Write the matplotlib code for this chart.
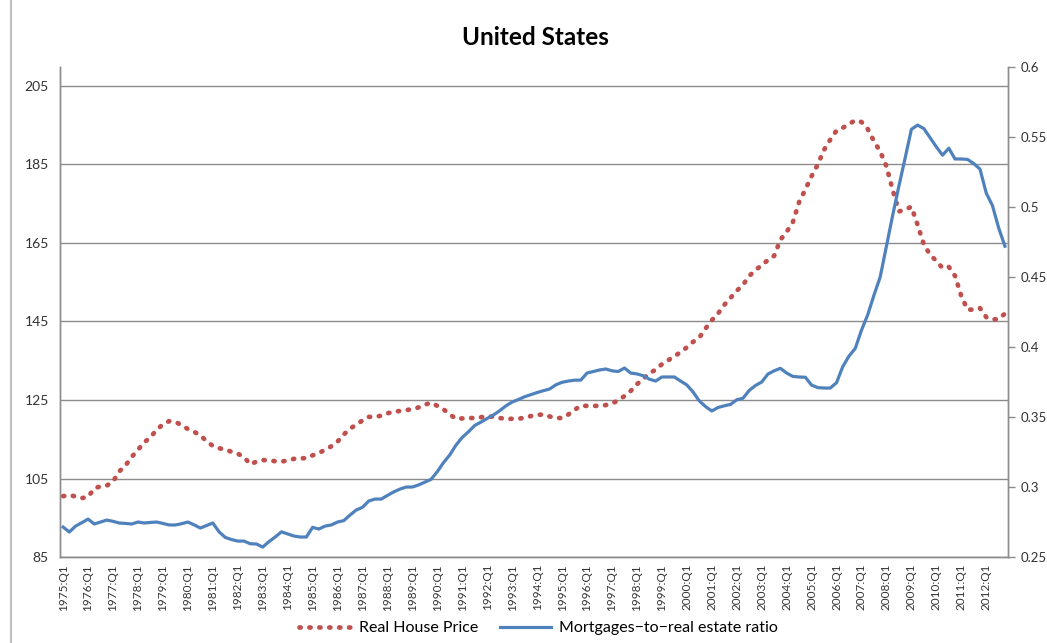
import matplotlib
matplotlib.use('Agg')
from matplotlib import pyplot as plt
from matplotlib.lines import Line2D
import numpy as np

plt.rcParams['font.family'] = ['Lato', 'DejaVu Sans']

# quarterly data, 1975:Q1 - 2012:Q4
house_price = [
    100.5, 100.8, 100.4, 100.0, 100.3, 102.5, 103.0, 103.2,
    104.2, 106.8, 108.3, 110.5, 112.3, 114.2, 115.5, 117.4,
    118.8, 119.6, 119.4, 118.6, 117.6, 116.9, 116.0, 114.5,
    113.3, 112.7, 112.4, 111.8, 111.3, 110.5, 108.6, 109.3,
    109.7, 109.6, 109.4, 109.3, 109.6, 110.0, 110.1, 110.2,
    110.9, 111.5, 112.3, 113.2, 114.4, 116.2, 117.7, 118.7,
    119.8, 120.7, 120.7, 121.0, 121.6, 122.0, 122.2, 122.4,
    122.7, 123.1, 123.8, 124.3, 123.5, 122.6, 121.3, 120.2,
    120.3, 120.4, 120.4, 120.6, 120.9, 120.7, 120.4, 120.2,
    120.2, 120.2, 120.5, 120.9, 121.2, 121.3, 120.8, 120.4,
    120.4, 121.3, 122.5, 123.5, 123.5, 123.5, 123.5, 123.7,
    124.1, 124.9, 126.0, 127.3, 129.0, 130.4, 131.8, 132.7,
    134.1, 135.1, 136.1, 137.2, 138.4, 139.8, 140.9, 143.2,
    145.3, 147.0, 149.2, 151.0, 152.8, 154.3, 156.6, 158.0,
    159.4, 160.6, 161.7, 165.8, 167.8, 170.3, 175.4, 178.6,
    182.0, 185.0, 188.7, 191.3, 193.6, 194.3, 195.3, 196.2,
    195.8, 194.0, 190.9, 188.3, 184.5, 178.5, 173.0, 173.5,
    174.2, 169.6, 164.6, 162.0, 160.4, 158.6, 158.9, 156.6,
    151.5, 148.0, 148.0, 148.4, 146.1, 145.5, 145.6, 147.0,
]

mortgage_ratio = [
    0.2714, 0.2679, 0.2721, 0.2745, 0.2771, 0.2736, 0.2750, 0.2764,
    0.2755, 0.2743, 0.2740, 0.2736, 0.2750, 0.2743, 0.2747, 0.2750,
    0.2740, 0.2729, 0.2729, 0.2738, 0.2750, 0.2730, 0.2707, 0.2725,
    0.2743, 0.2680, 0.2640, 0.2625, 0.2614, 0.2614, 0.2595, 0.2593,
    0.2571, 0.2610, 0.2643, 0.2680, 0.2665, 0.2650, 0.2643, 0.2643,
    0.2712, 0.2700, 0.2721, 0.2729, 0.2750, 0.2760, 0.2800, 0.2836,
    0.2855, 0.2900, 0.2914, 0.2914, 0.2940, 0.2965, 0.2985, 0.3000,
    0.3000, 0.3015, 0.3035, 0.3055, 0.3110, 0.3175, 0.3230, 0.3300,
    0.3355, 0.3395, 0.3440, 0.3464, 0.3490, 0.3515, 0.3545, 0.3580,
    0.3607, 0.3625, 0.3645, 0.3660, 0.3675, 0.3688, 0.3700, 0.3730,
    0.3748, 0.3757, 0.3763, 0.3764, 0.3814, 0.3825, 0.3836, 0.3843,
    0.3830, 0.3825, 0.3850, 0.3814, 0.3808, 0.3795, 0.3770, 0.3757,
    0.3786, 0.3786, 0.3786, 0.3757, 0.3729, 0.3679, 0.3615, 0.3575,
    0.3543, 0.3568, 0.3580, 0.3590, 0.3623, 0.3634, 0.3690, 0.3725,
    0.3750, 0.3807, 0.3830, 0.3848, 0.3814, 0.3790, 0.3786, 0.3784,
    0.3728, 0.3710, 0.3707, 0.3707, 0.3745, 0.3860, 0.3935, 0.3990,
    0.4120, 0.4230, 0.4370, 0.4500, 0.4720, 0.4940, 0.5150, 0.5350,
    0.5555, 0.5585, 0.5560, 0.5495, 0.5430, 0.5370, 0.5420, 0.5343,
    0.5343, 0.5340, 0.5310, 0.5271, 0.5100, 0.5010, 0.4850, 0.4720,
]

years = list(range(1975, 2013))
year_labels = [f"{y}:Q1" for y in years]
left_ticks = [85, 105, 125, 145, 165, 185, 205]
right_ticks = [0.25, 0.3, 0.35, 0.4, 0.45, 0.5, 0.55, 0.6]

red = '#C0504D'
blue = '#4F81BD'
grey = '#8C8C8C'

fig = plt.figure(figsize=(10.47, 6.43), dpi=100)
ax = fig.add_axes([0.0573, 0.1337, 0.9055, 0.7621])
ax2 = ax.twinx()

x = np.arange(len(house_price)) + 0.5

ax.plot(x, house_price, color=red, lw=3.4, linestyle=(0, (0.25, 1.85)),
        dash_capstyle='round', label='Real House Price', zorder=3)
ax2.plot(x, mortgage_ratio, color=blue, lw=2.3,
         label='Mortgages\u2212to\u2212real estate ratio')

ax.set_xlim(0, len(house_price))
ax.set_ylim(85, 209.8)
ax.set_yticks(left_ticks)
ax.set_yticklabels([str(t) for t in left_ticks], fontsize=10, color='#333333')
ax.tick_params(axis='y', length=0, pad=8)
ax.yaxis.grid(True, color=grey, lw=1)
ax.set_axisbelow(True)

ax.set_xticks(np.arange(0, len(house_price), 4) + 0.5)
ax.set_xticklabels(year_labels, rotation=90, fontsize=8.5, color='#333333')
ax.tick_params(axis='x', length=0, pad=5)

ax2.set_ylim(0.25, 0.6)
ax2.set_yticks(right_ticks)
ax2.set_yticklabels([f"{t:g}" for t in right_ticks], fontsize=9.5, color='#333333')
ax2.tick_params(axis='y', length=5, width=1, color=grey, pad=4)

for a in (ax, ax2):
    a.spines['top'].set_visible(False)
    for s in ('left', 'right', 'bottom'):
        a.spines[s].set_color(grey)
        a.spines[s].set_linewidth(1)

fig.text(0.511, 0.941, 'United States', ha='center', va='center',
         fontsize=17.5, fontweight='bold')

h1, l1 = ax.get_legend_handles_labels()
h2, l2 = ax2.get_legend_handles_labels()
ax.legend(h1 + h2, l1 + l2, loc='center', bbox_to_anchor=(0.505, -0.145),
          ncol=2, frameon=False, fontsize=11.5, handlelength=3.2,
          handletextpad=0.5, columnspacing=1.4)

fig.add_artist(Line2D([0.0105, 0.0105], [0, 1], color='#BFBFBF', lw=1.5))

fig.savefig('out.png', dpi=100)
